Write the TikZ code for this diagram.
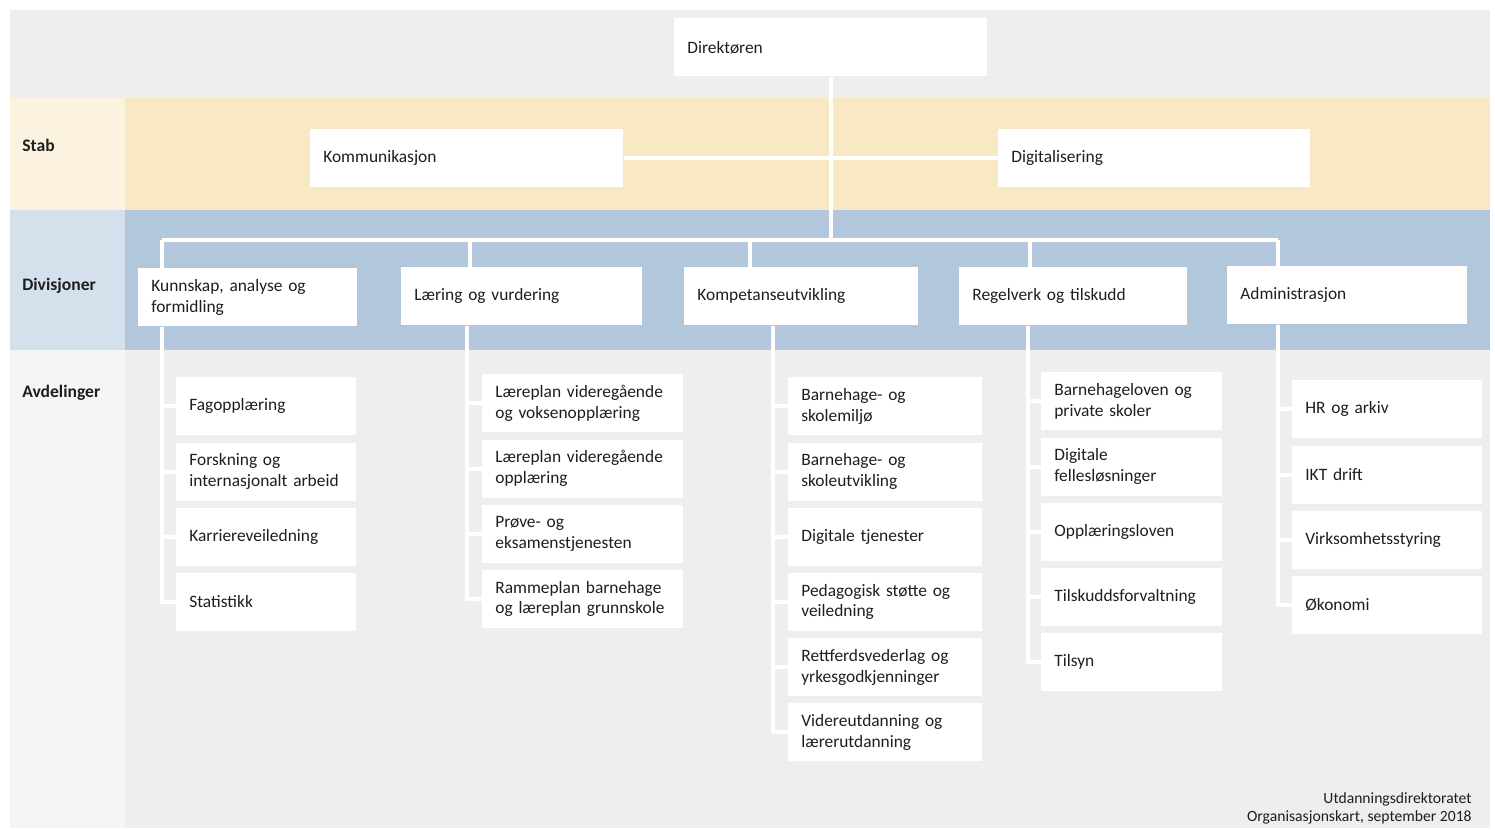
\documentclass[tikz,border=0pt]{standalone}
\usepackage{fontspec}
\setmainfont{Carlito}
\usetikzlibrary{positioning}
\definecolor{bggray}{RGB}{238,238,238}
\definecolor{stabL}{RGB}{251,243,224}
\definecolor{stabR}{RGB}{248,233,196}
\definecolor{divL}{RGB}{212,225,236}
\definecolor{divR}{RGB}{178,199,220}
\definecolor{avdL}{RGB}{245,245,245}
\definecolor{txt}{RGB}{30,30,30}
\tikzset{
  unit/.style={rectangle, fill=white, anchor=north west, minimum height=1.16cm, inner xsep=0.26cm, inner ysep=0pt, align=left, text=txt, font=\fontsize{9.9}{11.8}\selectfont},
  sub/.style={unit, minimum height=1.16cm},
  link/.style={draw=white, line width=2.3pt},
  lane/.style={anchor=base west, inner sep=0pt, text=txt, font=\bfseries\fontsize{10}{12}\selectfont},
  foot/.style={anchor=south east, align=right, inner sep=0pt, text=txt, font=\fontsize{8.9}{10.6}\selectfont},
  node distance=0.13cm
}
\begin{document}
\begin{tikzpicture}[x=0.02cm, y=-0.02cm]
	\useasboundingbox (0,0) rectangle (1495,829);
	\fill[white] (0,0) rectangle (1495,829);
	\fill[bggray] (10,10) rectangle (1490,828);
	\fill[stabL] (10,98) rectangle (125,210);
	\fill[stabR] (125,98) rectangle (1490,210);
	\fill[divL] (10,210) rectangle (125,350);
	\fill[divR] (125,210) rectangle (1490,350);
	\fill[avdL] (10,350) rectangle (125,828);
	%
	\node[lane] (stab) at (22,151) {Stab};
	\node[lane] (divl) at (22,290) {Divisjoner};
	\node[lane] (avdl) at (22,397) {Avdelinger};
	%
	\node[unit, text width=5.74cm] (dir) at (674,18) {Direktøren};
	\node[unit, text width=5.74cm] (komm) at (310,129) {Kommunikasjon};
	\node[unit, text width=5.72cm] (digi) at (998,129) {Digitalisering};
	%
	\node[unit, text width=3.86cm] (kun) at (138,268) {Kunnskap, analyse og\\formidling};
	\node[unit, text width=4.30cm] (lae) at (401,267) {Læring og vurdering};
	\node[unit, text width=4.16cm] (kom) at (684,267) {Kompetanseutvikling};
	\node[unit, text width=4.04cm] (reg) at (959,267) {Regelverk og tilskudd};
	\node[unit, text width=4.28cm] (adm) at (1227,266) {Administrasjon};
	%
	\node[sub, text width=3.08cm] (k1) at (176,377) {Fagopplæring};
	\node[sub, text width=3.08cm, below=of k1] (k2) {Forskning og\\internasjonalt arbeid};
	\node[sub, text width=3.08cm, below=of k2] (k3) {Karriereveiledning};
	\node[sub, text width=3.08cm, below=of k3] (k4) {Statistikk};
	%
	\node[sub, text width=3.50cm] (l1) at (482,374) {Læreplan videregående\\og voksenopplæring};
	\node[sub, text width=3.50cm, below=of l1] (l2) {Læreplan videregående\\opplæring};
	\node[sub, text width=3.50cm, below=of l2] (l3) {Prøve- og\\eksamenstjenesten};
	\node[sub, text width=3.50cm, below=of l3] (l4) {Rammeplan barnehage\\og læreplan grunnskole};
	%
	\node[sub, text width=3.36cm] (c1) at (788,377) {Barnehage- og\\skolemiljø};
	\node[sub, text width=3.36cm, below=of c1] (c2) {Barnehage- og\\skoleutvikling};
	\node[sub, text width=3.36cm, below=of c2] (c3) {Digitale tjenester};
	\node[sub, text width=3.36cm, below=of c3] (c4) {Pedagogisk støtte og\\veiledning};
	\node[sub, text width=3.36cm, below=of c4] (c5) {Rettferdsvederlag og\\yrkesgodkjenninger};
	\node[sub, text width=3.36cm, below=of c5] (c6) {Videreutdanning og\\lærerutdanning};
	%
	\node[sub, text width=3.10cm] (r1) at (1041,372) {Barnehageloven og\\private skoler};
	\node[sub, text width=3.10cm, below=of r1] (r2) {Digitale\\fellesløsninger};
	\node[sub, text width=3.10cm, below=of r2] (r3) {Opplæringsloven};
	\node[sub, text width=3.10cm, below=of r3] (r4) {Tilskuddsforvaltning};
	\node[sub, text width=3.10cm, below=of r4] (r5) {Tilsyn};
	%
	\node[sub, text width=3.28cm] (a1) at (1292,380) {HR og arkiv};
	\node[sub, text width=3.28cm, below=of a1] (a2) {IKT drift};
	\node[sub, text width=3.28cm, below=of a2] (a3) {Virksomhetsstyring};
	\node[sub, text width=3.28cm, below=of a3] (a4) {Økonomi};
	%
	\node[foot] (credit) at (1472,825) {Utdanningsdirektoratet\\Organisasjonskart, september 2018};
	%
	\coordinate (bus) at (830,240);
	\coordinate (b1) at (162,240);
	\coordinate (b2) at (470,240);
	\coordinate (b3) at (750,240);
	\coordinate (b4) at (1030,240);
	\coordinate (b5) at (1278,240);
	\coordinate (s1) at (162,0);
	\coordinate (s2) at (467,0);
	\coordinate (s3) at (773,0);
	\coordinate (s4) at (1028,0);
	\coordinate (s5) at (1278,0);
	%
	\draw[link] (dir.south) -- (dir.south |- bus);
	\draw[link] (komm) -- (digi);
	\draw[link] (b1) -- (b5);
	\foreach \b/\d in {b1/kun, b2/lae, b3/kom, b4/reg, b5/adm}
		\draw[link] (\b) -- (\b |- \d.north);
	%
	\draw[link] (kun.south -| s1) |- (k4.west);
	\foreach \n in {k1,k2,k3} \draw[link] (\n.west) -- (\n.west -| s1);
	\draw[link] (lae.south -| s2) |- (l4.west);
	\foreach \n in {l1,l2,l3} \draw[link] (\n.west) -- (\n.west -| s2);
	\draw[link] (kom.south -| s3) |- (c6.west);
	\foreach \n in {c1,c2,c3,c4,c5} \draw[link] (\n.west) -- (\n.west -| s3);
	\draw[link] (reg.south -| s4) |- (r5.west);
	\foreach \n in {r1,r2,r3,r4} \draw[link] (\n.west) -- (\n.west -| s4);
	\draw[link] (adm.south -| s5) |- (a4.west);
	\foreach \n in {a1,a2,a3} \draw[link] (\n.west) -- (\n.west -| s5);
\end{tikzpicture}
\end{document}
